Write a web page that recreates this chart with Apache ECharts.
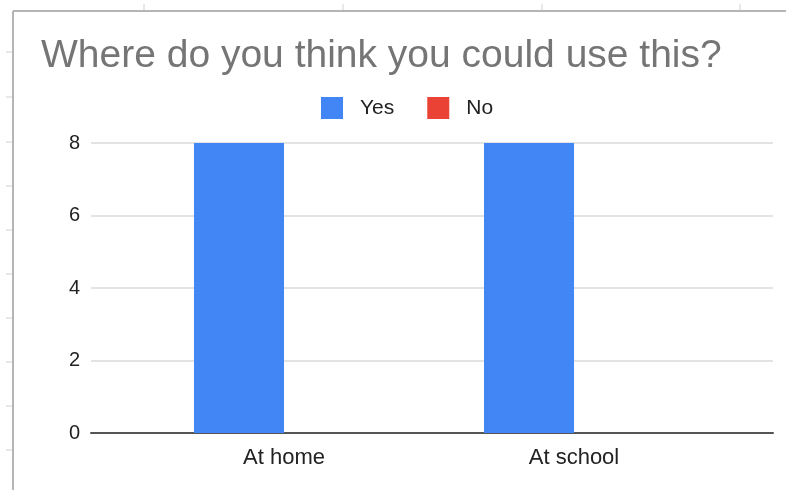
<!DOCTYPE html>
<html>
<head>
<meta charset="utf-8">
<script src="https://cdn.jsdelivr.net/npm/echarts@6/dist/echarts.min.js"></script>
<style>
html,body{margin:0;padding:0;background:#fff;}
#c{width:786px;height:490px;}
</style>
</head>
<body>
<div id="c"></div>
<script>
const titleText = 'Where do you think you could use this?';
const categories = ['At home', 'At school'];
const seriesNames = ['Yes', 'No'];
const yesValues = [8, 8];
const noValues = [0, 0];
const yTicks = [0, 2, 4, 6, 8];
const colors = ['#4285f4', '#ea4335'];

// decorative spreadsheet cell edges (outside chart)
const sheetColTicks = [144, 343, 542, 740];
const sheetRowTicks = [52, 97, 142, 186, 230, 274, 318, 362, 406, 450];

const chart = echarts.init(document.getElementById('c'), null, {renderer: 'canvas'});

const graphics = [
  {type: 'line', shape: {x1: 13, y1: 11, x2: 786, y2: 11}, style: {stroke: '#b5b5b5', lineWidth: 2}, z: 10},
  {type: 'line', shape: {x1: 13, y1: 11, x2: 13, y2: 490}, style: {stroke: '#b5b5b5', lineWidth: 2}, z: 10}
];
sheetColTicks.forEach(x => graphics.push({type: 'line', shape: {x1: x, y1: 4, x2: x, y2: 10}, style: {stroke: '#d0d0d0', lineWidth: 1}}));
sheetRowTicks.forEach(y => graphics.push({type: 'line', shape: {x1: 6, y1: y, x2: 12, y2: y}, style: {stroke: '#d0d0d0', lineWidth: 1}}));

const yMax = yTicks[yTicks.length - 1];
const yStep = yTicks[1] - yTicks[0];

chart.setOption({
  animation: false,
  backgroundColor: '#ffffff',
  color: colors,
  title: {
    text: titleText,
    left: 36,
    top: 32,
    textStyle: {fontFamily: 'Liberation Sans, Arial, sans-serif', fontSize: 39, fontWeight: 'normal', color: '#757575'}
  },
  legend: {
    data: seriesNames,
    left: 316,
    top: 92,
    icon: 'rect',
    itemWidth: 22,
    itemHeight: 22,
    itemGap: 33,
    textStyle: {fontFamily: 'Liberation Sans, Arial, sans-serif', fontSize: 21, color: '#222', padding: [0, 0, 0, 12]}
  },
  grid: [
    {left: 91, right: 13, top: 143, bottom: 57},
    {left: 139, right: 67, top: 143, bottom: 57}
  ],
  xAxis: [
    {type: 'category', gridIndex: 0, data: categories,
     axisLine: {show: true, lineStyle: {color: '#555', width: 2}},
     axisTick: {show: false}, axisLabel: {show: false}, splitLine: {show: false}},
    {type: 'category', gridIndex: 1, data: categories,
     axisLine: {show: false}, axisTick: {show: false},
     axisLabel: {show: true, margin: 14, fontFamily: 'Liberation Sans, Arial, sans-serif', fontSize: 22, color: '#222'}}
  ],
  yAxis: [
    {type: 'value', gridIndex: 0, min: 0, max: yMax, interval: yStep,
     axisLine: {show: false}, axisTick: {show: false},
     axisLabel: {margin: 11, fontFamily: 'Liberation Sans, Arial, sans-serif', fontSize: 20, color: '#222'},
     splitLine: {show: true, lineStyle: {color: '#e3e3e3', width: 2}}},
    {type: 'value', gridIndex: 1, min: 0, max: yMax, interval: yStep, show: false, splitLine: {show: false}}
  ],
  series: [
    {name: seriesNames[0], type: 'bar', xAxisIndex: 1, yAxisIndex: 1, data: yesValues, barWidth: 90, barGap: '0%', z: 3},
    {name: seriesNames[1], type: 'bar', xAxisIndex: 1, yAxisIndex: 1, data: noValues, barWidth: 90, barGap: '0%', z: 3}
  ],
  graphic: graphics
});
</script>
</body>
</html>
